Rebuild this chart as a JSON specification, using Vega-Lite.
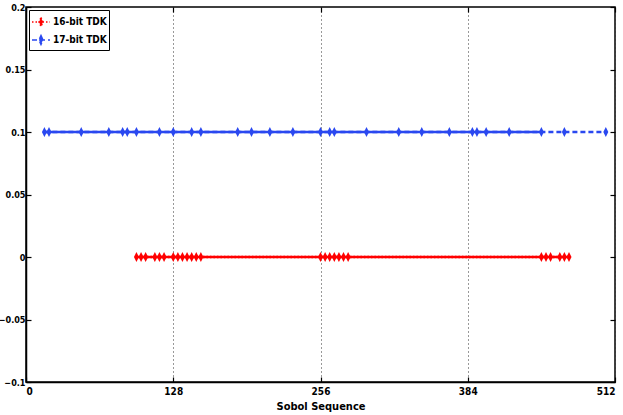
{
  "$schema": "https://vega.github.io/schema/vega-lite/v6.json",
  "width": 589,
  "height": 375,
  "autosize": {"type": "none"},
  "padding": {"left": 26, "top": 7, "right": 8, "bottom": 33},
  "background": "white",
  "config": {
    "font": "Liberation Sans Narrow, DejaVu Sans Condensed, sans-serif",
    "view": {"stroke": "black", "strokeWidth": 1.5},
    "axis": {
      "domainColor": "black", "domainWidth": 1.5,
      "tickColor": "black", "tickWidth": 1.2, "tickSize": -5,
      "labelFont": "Liberation Sans Narrow, DejaVu Sans Condensed, sans-serif",
      "labelFontSize": 10, "labelFontWeight": "bold", "labelColor": "black",
      "titleFont": "Liberation Sans Narrow, DejaVu Sans Condensed, sans-serif",
      "titleFontSize": 11, "titleFontWeight": "bold", "titleColor": "black"
    }
  },
  "datasets": {
    "pts": [
      {"s": "16-bit TDK", "x": 96, "y": 0}, {"s": "16-bit TDK", "x": 100, "y": 0}, {"s": "16-bit TDK", "x": 104, "y": 0},
      {"s": "16-bit TDK", "x": 112, "y": 0}, {"s": "16-bit TDK", "x": 116, "y": 0}, {"s": "16-bit TDK", "x": 120, "y": 0},
      {"s": "16-bit TDK", "x": 128, "y": 0}, {"s": "16-bit TDK", "x": 132, "y": 0}, {"s": "16-bit TDK", "x": 136, "y": 0},
      {"s": "16-bit TDK", "x": 140, "y": 0}, {"s": "16-bit TDK", "x": 144, "y": 0}, {"s": "16-bit TDK", "x": 148, "y": 0},
      {"s": "16-bit TDK", "x": 152, "y": 0},
      {"s": "16-bit TDK", "x": 256, "y": 0}, {"s": "16-bit TDK", "x": 260, "y": 0}, {"s": "16-bit TDK", "x": 264, "y": 0},
      {"s": "16-bit TDK", "x": 268, "y": 0}, {"s": "16-bit TDK", "x": 272, "y": 0}, {"s": "16-bit TDK", "x": 276, "y": 0},
      {"s": "16-bit TDK", "x": 280, "y": 0},
      {"s": "16-bit TDK", "x": 448, "y": 0}, {"s": "16-bit TDK", "x": 452, "y": 0}, {"s": "16-bit TDK", "x": 456, "y": 0},
      {"s": "16-bit TDK", "x": 464, "y": 0}, {"s": "16-bit TDK", "x": 468, "y": 0}, {"s": "16-bit TDK", "x": 472, "y": 0},
      {"s": "17-bit TDK", "x": 16, "y": 0.1}, {"s": "17-bit TDK", "x": 20, "y": 0.1}, {"s": "17-bit TDK", "x": 48, "y": 0.1},
      {"s": "17-bit TDK", "x": 72, "y": 0.1}, {"s": "17-bit TDK", "x": 84, "y": 0.1}, {"s": "17-bit TDK", "x": 88, "y": 0.1},
      {"s": "17-bit TDK", "x": 96, "y": 0.1}, {"s": "17-bit TDK", "x": 116, "y": 0.1}, {"s": "17-bit TDK", "x": 128, "y": 0.1},
      {"s": "17-bit TDK", "x": 144, "y": 0.1}, {"s": "17-bit TDK", "x": 152, "y": 0.1}, {"s": "17-bit TDK", "x": 184, "y": 0.1},
      {"s": "17-bit TDK", "x": 196, "y": 0.1}, {"s": "17-bit TDK", "x": 212, "y": 0.1}, {"s": "17-bit TDK", "x": 232, "y": 0.1},
      {"s": "17-bit TDK", "x": 256, "y": 0.1}, {"s": "17-bit TDK", "x": 264, "y": 0.1}, {"s": "17-bit TDK", "x": 268, "y": 0.1},
      {"s": "17-bit TDK", "x": 296, "y": 0.1}, {"s": "17-bit TDK", "x": 324, "y": 0.1}, {"s": "17-bit TDK", "x": 344, "y": 0.1},
      {"s": "17-bit TDK", "x": 368, "y": 0.1}, {"s": "17-bit TDK", "x": 388, "y": 0.1}, {"s": "17-bit TDK", "x": 392, "y": 0.1},
      {"s": "17-bit TDK", "x": 400, "y": 0.1}, {"s": "17-bit TDK", "x": 420, "y": 0.1}, {"s": "17-bit TDK", "x": 448, "y": 0.1},
      {"s": "17-bit TDK", "x": 468, "y": 0.1}, {"s": "17-bit TDK", "x": 504, "y": 0.1}
    ]
  },
  "data": {"name": "pts"},
  "resolve": {"axis": {"x": "independent", "y": "independent"}},
  "layer": [
    {
      "mark": {"type": "line", "strokeWidth": 2.5},
      "encoding": {
        "x": {"field": "x", "type": "quantitative",
              "scale": {"domain": [0, 512], "nice": false, "zero": false},
              "axis": {"values": [0, 128, 256, 384, 512], "title": "Sobol Sequence", "titlePadding": 4,
                       "labelPadding": 9, "grid": true, "gridColor": "#333", "gridDash": [1, 3], "gridWidth": 1}},
        "y": {"field": "y", "type": "quantitative",
              "scale": {"domain": [-0.1, 0.2], "nice": false, "zero": false},
              "axis": {"values": [-0.1, -0.05, 0, 0.05, 0.1, 0.15, 0.2], "format": ".2~f", "title": null,
                       "labelPadding": 6, "labelFontSize": 9, "grid": false}},
        "color": {"field": "s", "type": "nominal",
                  "scale": {"domain": ["16-bit TDK", "17-bit TDK"], "range": ["#ff0000", "#2a48f0"]},
                  "legend": {"title": null, "orient": "top-left", "offset": 3, "padding": 2,
                             "strokeColor": "black", "fillColor": "white",
                             "labelFontSize": 10, "labelFontWeight": "bold", "labelColor": "black",
                             "labelFont": "Liberation Sans Narrow, DejaVu Sans Condensed, sans-serif",
                             "symbolType": "M-1,0H1M0,-0.5L0.22,0L0,0.5L-0.22,0Z",
                             "symbolSize": 324, "symbolStrokeWidth": 1.5, "rowPadding": 0, "labelOffset": 2,
                             "encode": {"symbols": {"update": {"fill": {"scale": "color", "field": "value"}}}}}},
        "strokeDash": {"field": "s", "type": "nominal",
                       "scale": {"domain": ["16-bit TDK", "17-bit TDK"], "range": [[1.5, 2], [5, 3]]},
                       "legend": {"title": null, "orient": "top-left", "offset": 3}}
      }
    },
    {
      "transform": [{"filter": "datum.s == '16-bit TDK' || datum.x <= 448"}],
      "mark": {"type": "line", "strokeWidth": 2.5},
      "encoding": {
        "x": {"field": "x", "type": "quantitative", "axis": null},
        "y": {"field": "y", "type": "quantitative", "axis": null},
        "color": {"field": "s", "type": "nominal", "legend": null},
        "detail": {"field": "s"}
      }
    },
    {
      "mark": {"type": "point", "shape": "M0,-1L0.5,0L0,1L-0.5,0Z", "filled": true, "opacity": 1, "size": 100},
      "encoding": {
        "x": {"field": "x", "type": "quantitative",
              "axis": {"orient": "top", "values": [0, 128, 256, 384, 512], "labels": false, "title": null, "domain": false, "grid": false}},
        "y": {"field": "y", "type": "quantitative",
              "axis": {"orient": "right", "values": [-0.1, -0.05, 0, 0.05, 0.1, 0.15, 0.2], "labels": false, "title": null, "domain": false, "grid": false}},
        "color": {"field": "s", "type": "nominal", "legend": null}
      }
    }
  ]
}
